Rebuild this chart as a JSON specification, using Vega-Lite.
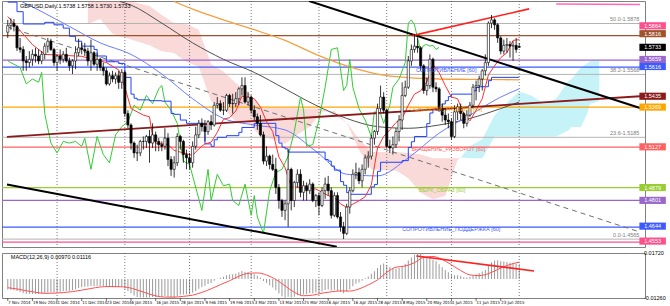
{
"$schema":"https://vega.github.io/schema/vega-lite/v6.json",
"padding":0,
"background":"#ffffff",
"spacing":2,
"config":{"view":{"stroke":"#808080","strokeWidth":1},"font":"Liberation Sans","axis":{"labelFontSize":6,"labelColor":"#000","domainColor":"#333","tickColor":"#333","tickSize":3,"grid":false,"labelFlush":false}},
"datasets":{
"candles":[
{"i":0,"o":1.5825,"h":1.59,"l":1.579,"c":1.5865},{"i":1,"o":1.5865,"h":1.591,"l":1.584,"c":1.588},{"i":2,"o":1.588,"h":1.5905,"l":1.583,"c":1.586},{"i":3,"o":1.586,"h":1.587,"l":1.571,"c":1.573},{"i":4,"o":1.573,"h":1.579,"l":1.57,"c":1.572},{"i":5,"o":1.572,"h":1.574,"l":1.559,"c":1.565},{"i":6,"o":1.565,"h":1.568,"l":1.559,"c":1.564},{"i":7,"o":1.564,"h":1.571,"l":1.561,"c":1.566},{"i":8,"o":1.566,"h":1.572,"l":1.562,"c":1.569},{"i":9,"o":1.569,"h":1.573,"l":1.564,"c":1.568},
{"i":10,"o":1.568,"h":1.572,"l":1.563,"c":1.565},{"i":11,"o":1.565,"h":1.571,"l":1.563,"c":1.569},{"i":12,"o":1.569,"h":1.576,"l":1.566,"c":1.574},{"i":13,"o":1.574,"h":1.579,"l":1.57,"c":1.577},{"i":14,"o":1.577,"h":1.5785,"l":1.571,"c":1.572},{"i":15,"o":1.572,"h":1.573,"l":1.562,"c":1.564},{"i":16,"o":1.564,"h":1.569,"l":1.559,"c":1.568},{"i":17,"o":1.568,"h":1.572,"l":1.563,"c":1.566},{"i":18,"o":1.566,"h":1.571,"l":1.564,"c":1.569},{"i":19,"o":1.569,"h":1.573,"l":1.564,"c":1.565},
{"i":20,"o":1.565,"h":1.567,"l":1.559,"c":1.562},{"i":21,"o":1.562,"h":1.566,"l":1.557,"c":1.565},{"i":22,"o":1.565,"h":1.574,"l":1.56,"c":1.57},{"i":23,"o":1.57,"h":1.5785,"l":1.568,"c":1.573},{"i":24,"o":1.573,"h":1.576,"l":1.569,"c":1.572},{"i":25,"o":1.572,"h":1.576,"l":1.568,"c":1.571},{"i":26,"o":1.571,"h":1.573,"l":1.562,"c":1.565},{"i":27,"o":1.565,"h":1.578,"l":1.559,"c":1.57},{"i":28,"o":1.57,"h":1.571,"l":1.562,"c":1.563},{"i":29,"o":1.563,"h":1.57,"l":1.559,"c":1.566},
{"i":30,"o":1.566,"h":1.567,"l":1.559,"c":1.561},{"i":31,"o":1.561,"h":1.564,"l":1.556,"c":1.559},{"i":32,"o":1.559,"h":1.561,"l":1.55,"c":1.551},{"i":33,"o":1.551,"h":1.558,"l":1.55,"c":1.556},{"i":34,"o":1.556,"h":1.559,"l":1.552,"c":1.554},{"i":35,"o":1.554,"h":1.558,"l":1.551,"c":1.556},{"i":36,"o":1.556,"h":1.559,"l":1.548,"c":1.552},{"i":37,"o":1.552,"h":1.56,"l":1.548,"c":1.558},{"i":38,"o":1.558,"h":1.559,"l":1.531,"c":1.533},{"i":39,"o":1.533,"h":1.535,"l":1.524,"c":1.526},
{"i":40,"o":1.526,"h":1.527,"l":1.511,"c":1.515},{"i":41,"o":1.515,"h":1.516,"l":1.506,"c":1.509},{"i":42,"o":1.509,"h":1.514,"l":1.504,"c":1.509},{"i":43,"o":1.509,"h":1.517,"l":1.507,"c":1.516},{"i":44,"o":1.516,"h":1.519,"l":1.511,"c":1.516},{"i":45,"o":1.516,"h":1.52,"l":1.512,"c":1.519},{"i":46,"o":1.519,"h":1.523,"l":1.503,"c":1.515},{"i":47,"o":1.515,"h":1.527,"l":1.512,"c":1.52},{"i":48,"o":1.52,"h":1.522,"l":1.51,"c":1.516},{"i":49,"o":1.516,"h":1.518,"l":1.51,"c":1.514},
{"i":50,"o":1.514,"h":1.516,"l":1.51,"c":1.513},{"i":51,"o":1.513,"h":1.524,"l":1.511,"c":1.518},{"i":52,"o":1.518,"h":1.521,"l":1.501,"c":1.505},{"i":53,"o":1.505,"h":1.507,"l":1.495,"c":1.499},{"i":54,"o":1.499,"h":1.507,"l":1.494,"c":1.503},{"i":55,"o":1.503,"h":1.521,"l":1.501,"c":1.519},{"i":56,"o":1.519,"h":1.52,"l":1.511,"c":1.516},{"i":57,"o":1.516,"h":1.517,"l":1.503,"c":1.508},{"i":58,"o":1.508,"h":1.511,"l":1.499,"c":1.506},{"i":59,"o":1.506,"h":1.509,"l":1.499,"c":1.503},
{"i":60,"o":1.503,"h":1.516,"l":1.5,"c":1.513},{"i":61,"o":1.513,"h":1.525,"l":1.511,"c":1.52},{"i":62,"o":1.52,"h":1.529,"l":1.518,"c":1.527},{"i":63,"o":1.527,"h":1.53,"l":1.522,"c":1.525},{"i":64,"o":1.525,"h":1.529,"l":1.516,"c":1.522},{"i":65,"o":1.522,"h":1.529,"l":1.52,"c":1.528},{"i":66,"o":1.528,"h":1.532,"l":1.523,"c":1.526},{"i":67,"o":1.526,"h":1.54,"l":1.525,"c":1.538},{"i":68,"o":1.538,"h":1.543,"l":1.536,"c":1.539},{"i":69,"o":1.539,"h":1.541,"l":1.534,"c":1.535},
{"i":70,"o":1.535,"h":1.54,"l":1.532,"c":1.535},{"i":71,"o":1.535,"h":1.545,"l":1.534,"c":1.544},{"i":72,"o":1.544,"h":1.545,"l":1.537,"c":1.539},{"i":73,"o":1.539,"h":1.545,"l":1.533,"c":1.539},{"i":74,"o":1.539,"h":1.546,"l":1.537,"c":1.542},{"i":75,"o":1.542,"h":1.549,"l":1.538,"c":1.548},{"i":76,"o":1.548,"h":1.555,"l":1.544,"c":1.55},{"i":77,"o":1.55,"h":1.555,"l":1.539,"c":1.54},{"i":78,"o":1.54,"h":1.546,"l":1.538,"c":1.543},{"i":79,"o":1.543,"h":1.544,"l":1.533,"c":1.535},
{"i":80,"o":1.535,"h":1.538,"l":1.529,"c":1.531},{"i":81,"o":1.531,"h":1.533,"l":1.523,"c":1.527},{"i":82,"o":1.527,"h":1.532,"l":1.519,"c":1.52},{"i":83,"o":1.52,"h":1.522,"l":1.502,"c":1.504},{"i":84,"o":1.504,"h":1.513,"l":1.501,"c":1.507},{"i":85,"o":1.507,"h":1.508,"l":1.499,"c":1.502},{"i":86,"o":1.502,"h":1.508,"l":1.498,"c":1.499},{"i":87,"o":1.499,"h":1.506,"l":1.484,"c":1.488},{"i":88,"o":1.488,"h":1.49,"l":1.475,"c":1.48},{"i":89,"o":1.48,"h":1.481,"l":1.47,"c":1.474},
{"i":90,"o":1.474,"h":1.48,"l":1.468,"c":1.478},{"i":91,"o":1.478,"h":1.511,"l":1.464,"c":1.499},{"i":92,"o":1.499,"h":1.5,"l":1.474,"c":1.48},{"i":93,"o":1.48,"h":1.492,"l":1.476,"c":1.491},{"i":94,"o":1.491,"h":1.499,"l":1.488,"c":1.496},{"i":95,"o":1.496,"h":1.499,"l":1.482,"c":1.485},{"i":96,"o":1.485,"h":1.492,"l":1.48,"c":1.489},{"i":97,"o":1.489,"h":1.491,"l":1.48,"c":1.486},{"i":98,"o":1.486,"h":1.493,"l":1.484,"c":1.49},{"i":99,"o":1.49,"h":1.491,"l":1.479,"c":1.48},
{"i":100,"o":1.48,"h":1.484,"l":1.476,"c":1.483},{"i":101,"o":1.483,"h":1.485,"l":1.471,"c":1.477},{"i":102,"o":1.477,"h":1.488,"l":1.476,"c":1.486},{"i":103,"o":1.486,"h":1.494,"l":1.481,"c":1.49},{"i":104,"o":1.49,"h":1.495,"l":1.483,"c":1.486},{"i":105,"o":1.486,"h":1.488,"l":1.469,"c":1.471},{"i":106,"o":1.471,"h":1.485,"l":1.47,"c":1.483},{"i":107,"o":1.483,"h":1.485,"l":1.469,"c":1.47},{"i":108,"o":1.47,"h":1.473,"l":1.461,"c":1.464},{"i":109,"o":1.464,"h":1.467,"l":1.4565,"c":1.46},
{"i":110,"o":1.46,"h":1.478,"l":1.459,"c":1.476},{"i":111,"o":1.476,"h":1.488,"l":1.472,"c":1.486},{"i":112,"o":1.486,"h":1.499,"l":1.485,"c":1.496},{"i":113,"o":1.496,"h":1.503,"l":1.493,"c":1.497},{"i":114,"o":1.497,"h":1.5,"l":1.49,"c":1.492},{"i":115,"o":1.492,"h":1.502,"l":1.488,"c":1.499},{"i":116,"o":1.499,"h":1.508,"l":1.496,"c":1.506},{"i":117,"o":1.506,"h":1.51,"l":1.5,"c":1.507},{"i":118,"o":1.507,"h":1.52,"l":1.505,"c":1.518},{"i":119,"o":1.518,"h":1.523,"l":1.514,"c":1.522},
{"i":120,"o":1.522,"h":1.539,"l":1.52,"c":1.536},{"i":121,"o":1.536,"h":1.55,"l":1.534,"c":1.543},{"i":122,"o":1.543,"h":1.546,"l":1.533,"c":1.535},{"i":123,"o":1.535,"h":1.536,"l":1.512,"c":1.513},{"i":124,"o":1.513,"h":1.517,"l":1.509,"c":1.512},{"i":125,"o":1.512,"h":1.519,"l":1.508,"c":1.514},{"i":126,"o":1.514,"h":1.524,"l":1.512,"c":1.522},{"i":127,"o":1.522,"h":1.532,"l":1.516,"c":1.529},{"i":128,"o":1.529,"h":1.552,"l":1.523,"c":1.544},{"i":129,"o":1.544,"h":1.553,"l":1.543,"c":1.549},
{"i":130,"o":1.549,"h":1.568,"l":1.548,"c":1.565},{"i":131,"o":1.565,"h":1.575,"l":1.562,"c":1.572},{"i":132,"o":1.572,"h":1.5815,"l":1.57,"c":1.574},{"i":133,"o":1.574,"h":1.579,"l":1.57,"c":1.573},{"i":134,"o":1.573,"h":1.574,"l":1.559,"c":1.562},{"i":135,"o":1.562,"h":1.563,"l":1.545,"c":1.547},{"i":136,"o":1.547,"h":1.555,"l":1.544,"c":1.55},{"i":137,"o":1.55,"h":1.569,"l":1.548,"c":1.566},{"i":138,"o":1.566,"h":1.567,"l":1.546,"c":1.549},{"i":139,"o":1.549,"h":1.552,"l":1.546,"c":1.548},
{"i":140,"o":1.548,"h":1.549,"l":1.534,"c":1.536},{"i":141,"o":1.536,"h":1.539,"l":1.528,"c":1.532},{"i":142,"o":1.532,"h":1.536,"l":1.526,"c":1.529},{"i":143,"o":1.529,"h":1.533,"l":1.524,"c":1.528},{"i":144,"o":1.528,"h":1.53,"l":1.517,"c":1.519},{"i":145,"o":1.519,"h":1.538,"l":1.518,"c":1.534},{"i":146,"o":1.534,"h":1.539,"l":1.529,"c":1.537},{"i":147,"o":1.537,"h":1.539,"l":1.529,"c":1.533},{"i":148,"o":1.533,"h":1.534,"l":1.524,"c":1.527},{"i":149,"o":1.527,"h":1.535,"l":1.525,"c":1.532},
{"i":150,"o":1.532,"h":1.54,"l":1.531,"c":1.538},{"i":151,"o":1.538,"h":1.551,"l":1.536,"c":1.549},{"i":152,"o":1.549,"h":1.553,"l":1.541,"c":1.55},{"i":153,"o":1.55,"h":1.556,"l":1.546,"c":1.554},{"i":154,"o":1.554,"h":1.56,"l":1.547,"c":1.559},{"i":155,"o":1.559,"h":1.569,"l":1.556,"c":1.564},{"i":156,"o":1.564,"h":1.589,"l":1.562,"c":1.588},{"i":157,"o":1.588,"h":1.593,"l":1.585,"c":1.59},{"i":158,"o":1.59,"h":1.591,"l":1.584,"c":1.587},{"i":159,"o":1.587,"h":1.588,"l":1.576,"c":1.579},
{"i":160,"o":1.579,"h":1.58,"l":1.569,"c":1.571},{"i":161,"o":1.571,"h":1.578,"l":1.569,"c":1.5745},{"i":162,"o":1.5745,"h":1.579,"l":1.57,"c":1.575},{"i":163,"o":1.575,"h":1.577,"l":1.567,"c":1.574},{"i":164,"o":1.574,"h":1.577,"l":1.565,"c":1.5745},{"i":165,"o":1.5745,"h":1.579,"l":1.57,"c":1.572},{"i":166,"o":1.5738,"h":1.5758,"l":1.573,"c":1.5733}
],
"cloud":[
{"s":"r","i":26,"a":1.5875,"b":1.6012},{"s":"r","i":30,"a":1.5905,"b":1.6012},{"s":"r","i":34,"a":1.5815,"b":1.6012},{"s":"r","i":40,"a":1.578,"b":1.6012},{"s":"r","i":46,"a":1.5745,"b":1.5985},{"s":"r","i":50,"a":1.5709,"b":1.593},{"s":"r","i":54,"a":1.5699,"b":1.588},{"s":"r","i":58,"a":1.5643,"b":1.5875},{"s":"r","i":62,"a":1.5615,"b":1.584},{"s":"r","i":66,"a":1.5404,"b":1.563},{"s":"r","i":70,"a":1.5364,"b":1.5585},{"s":"r","i":74,"a":1.5279,"b":1.5515},{"s":"r","i":78,"a":1.5273,"b":1.546},{"s":"r","i":82,"a":1.519,"b":1.5365},{"s":"r","i":86,"a":1.5173,"b":1.5365},{"s":"r","i":90,"a":1.5145,"b":1.5363},{"s":"r","i":94,"a":1.52,"b":1.5362},{"s":"r","i":98,"a":1.525,"b":1.536},{"s":"r","i":102,"a":1.534,"b":1.536},{"s":"r","i":106,"a":1.5345,"b":1.532},{"s":"r","i":110,"a":1.5275,"b":1.5275},{"s":"r","i":114,"a":1.5108,"b":1.5175},{"s":"r","i":118,"a":1.499,"b":1.5095},{"s":"r","i":122,"a":1.4985,"b":1.5095},{"s":"r","i":126,"a":1.4983,"b":1.5095},{"s":"r","i":130,"a":1.4935,"b":1.509},{"s":"r","i":134,"a":1.4848,"b":1.508},{"s":"r","i":138,"a":1.4808,"b":1.5058},{"s":"r","i":142,"a":1.4828,"b":1.5058},{"s":"r","i":146,"a":1.5049,"b":1.5058},{"s":"r","i":147,"a":1.5062,"b":1.5062},
{"s":"c","i":147,"a":1.5062,"b":1.5062},{"s":"c","i":150,"a":1.5132,"b":1.5058},{"s":"c","i":154,"a":1.5172,"b":1.5058},{"s":"c","i":158,"a":1.5319,"b":1.519},{"s":"c","i":162,"a":1.5396,"b":1.519},{"s":"c","i":166,"a":1.5463,"b":1.519},{"s":"c","i":170,"a":1.5439,"b":1.519},{"s":"c","i":174,"a":1.5389,"b":1.519},{"s":"c","i":178,"a":1.5419,"b":1.519},{"s":"c","i":182,"a":1.5529,"b":1.5228},{"s":"c","i":183,"a":1.554,"b":1.5248},{"s":"c","i":186,"a":1.561,"b":1.5248},{"s":"c","i":188,"a":1.5635,"b":1.5325},{"s":"c","i":189,"a":1.5648,"b":1.539},{"s":"c","i":192,"a":1.565,"b":1.5405}
],
"months":[{"i":16},{"i":38},{"i":59},{"i":79},{"i":101},{"i":123},{"i":144},{"i":166}],
"levels":[{"k":"brown","p":1.5804},{"k":"purple","p":1.5655},{"k":"blue","p":1.5612},{"k":"orange","p":1.5369},{"k":"red","p":1.5125},{"k":"olive","p":1.4879},{"k":"purple","p":1.4801},{"k":"blue","p":1.4638},{"k":"pink","p":1.4547}],
"fibs":[{"p":1.5878,"t":"50.0-1.5878"},{"p":1.5568,"t":"38.2-1.5568"},{"p":1.5185,"t":"23.6-1.5185"},{"p":1.4565,"t":"0.0-1.4565"}],
"trends":[
{"id":"blackUp","i":97.8,"p":1.6015},{"id":"blackUp","i":205.2,"p":1.5363},
{"id":"blackLow","i":-0.25,"p":1.4898},{"id":"blackLow","i":106.8,"p":1.4519},
{"id":"maroon","i":-0.25,"p":1.5188},{"id":"maroon","i":205.2,"p":1.5435},
{"id":"red","i":131.3,"p":1.5804},{"id":"red","i":169.2,"p":1.5967},
{"id":"dash","i":-0.25,"p":1.5858},{"id":"dash","i":205.2,"p":1.4608},
{"id":"pinkTop","i":178,"p":1.5997},{"id":"pinkTop","i":205.2,"p":1.5993}
],
"ind":[
{"s":"tenkan","i":0,"p":1.592},{"s":"tenkan","i":4,"p":1.5835},{"s":"tenkan","i":8,"p":1.575},{"s":"tenkan","i":12,"p":1.569},{"s":"tenkan","i":24,"p":1.5678},{"s":"tenkan","i":32,"p":1.564},{"s":"tenkan","i":36,"p":1.5595},{"s":"tenkan","i":38,"p":1.549},{"s":"tenkan","i":40,"p":1.536},{"s":"tenkan","i":44,"p":1.532},{"s":"tenkan","i":46,"p":1.531},{"s":"tenkan","i":47,"p":1.519},{"s":"tenkan","i":48,"p":1.515},{"s":"tenkan","i":52,"p":1.514},{"s":"tenkan","i":54,"p":1.5105},{"s":"tenkan","i":60,"p":1.5075},{"s":"tenkan","i":62,"p":1.5115},{"s":"tenkan","i":64,"p":1.5145},{"s":"tenkan","i":66,"p":1.5155},{"s":"tenkan","i":68,"p":1.5215},{"s":"tenkan","i":70,"p":1.5295},{"s":"tenkan","i":72,"p":1.5305},{"s":"tenkan","i":74,"p":1.5345},{"s":"tenkan","i":76,"p":1.5435},{"s":"tenkan","i":80,"p":1.542},{"s":"tenkan","i":82,"p":1.537},{"s":"tenkan","i":84,"p":1.528},{"s":"tenkan","i":86,"p":1.522},{"s":"tenkan","i":88,"p":1.5065},{"s":"tenkan","i":90,"p":1.5},{"s":"tenkan","i":92,"p":1.4885},{"s":"tenkan","i":100,"p":1.487},{"s":"tenkan","i":102,"p":1.485},{"s":"tenkan","i":104,"p":1.483},{"s":"tenkan","i":106,"p":1.482},{"s":"tenkan","i":108,"p":1.478},{"s":"tenkan","i":110,"p":1.4758},{"s":"tenkan","i":112,"p":1.4778},{"s":"tenkan","i":114,"p":1.4798},{"s":"tenkan","i":116,"p":1.4823},{"s":"tenkan","i":118,"p":1.4895},{"s":"tenkan","i":120,"p":1.512},{"s":"tenkan","i":122,"p":1.519},{"s":"tenkan","i":124,"p":1.523},{"s":"tenkan","i":126,"p":1.5275},{"s":"tenkan","i":128,"p":1.53},{"s":"tenkan","i":130,"p":1.538},{"s":"tenkan","i":132,"p":1.5448},{"s":"tenkan","i":134,"p":1.5468},{"s":"tenkan","i":136,"p":1.5523},{"s":"tenkan","i":138,"p":1.5628},{"s":"tenkan","i":140,"p":1.5578},{"s":"tenkan","i":142,"p":1.55},{"s":"tenkan","i":144,"p":1.543},{"s":"tenkan","i":146,"p":1.542},{"s":"tenkan","i":148,"p":1.533},{"s":"tenkan","i":150,"p":1.5285},{"s":"tenkan","i":152,"p":1.535},{"s":"tenkan","i":154,"p":1.542},{"s":"tenkan","i":156,"p":1.5565},{"s":"tenkan","i":158,"p":1.562},{"s":"tenkan","i":160,"p":1.567},{"s":"tenkan","i":162,"p":1.57},{"s":"tenkan","i":164,"p":1.5775},{"s":"tenkan","i":166,"p":1.578},
{"s":"kijun","i":0,"p":1.6008},{"s":"kijun","i":3,"p":1.595},{"s":"kijun","i":5,"p":1.5875},{"s":"kijun","i":12,"p":1.5885},{"s":"kijun","i":15,"p":1.587},{"s":"kijun","i":18,"p":1.585},{"s":"kijun","i":20,"p":1.58},{"s":"kijun","i":22,"p":1.577},{"s":"kijun","i":24,"p":1.574},{"s":"kijun","i":28,"p":1.572},{"s":"kijun","i":29,"p":1.568},{"s":"kijun","i":32,"p":1.5645},{"s":"kijun","i":36,"p":1.5635},{"s":"kijun","i":38,"p":1.555},{"s":"kijun","i":40,"p":1.5448},{"s":"kijun","i":41,"p":1.5423},{"s":"kijun","i":42,"p":1.5413},{"s":"kijun","i":46,"p":1.5408},{"s":"kijun","i":50,"p":1.5405},{"s":"kijun","i":53,"p":1.533},{"s":"kijun","i":54,"p":1.5325},{"s":"kijun","i":56,"p":1.529},{"s":"kijun","i":58,"p":1.527},{"s":"kijun","i":64,"p":1.5145},{"s":"kijun","i":66,"p":1.513},{"s":"kijun","i":67,"p":1.517},{"s":"kijun","i":68,"p":1.5185},{"s":"kijun","i":71,"p":1.5195},{"s":"kijun","i":75,"p":1.5215},{"s":"kijun","i":76,"p":1.5245},{"s":"kijun","i":80,"p":1.527},{"s":"kijun","i":87,"p":1.5195},{"s":"kijun","i":88,"p":1.515},{"s":"kijun","i":89,"p":1.5125},{"s":"kijun","i":90,"p":1.5115},{"s":"kijun","i":91,"p":1.5095},{"s":"kijun","i":103,"p":1.505},{"s":"kijun","i":104,"p":1.504},{"s":"kijun","i":105,"p":1.501},{"s":"kijun","i":106,"p":1.4985},{"s":"kijun","i":108,"p":1.4915},{"s":"kijun","i":109,"p":1.4893},{"s":"kijun","i":110,"p":1.4848},{"s":"kijun","i":111,"p":1.4838},{"s":"kijun","i":118,"p":1.4883},{"s":"kijun","i":119,"p":1.4898},{"s":"kijun","i":120,"p":1.4978},{"s":"kijun","i":121,"p":1.5033},{"s":"kijun","i":128,"p":1.5043},{"s":"kijun","i":130,"p":1.5123},{"s":"kijun","i":131,"p":1.5158},{"s":"kijun","i":132,"p":1.519},{"s":"kijun","i":136,"p":1.5268},{"s":"kijun","i":137,"p":1.5333},{"s":"kijun","i":138,"p":1.5358},{"s":"kijun","i":139,"p":1.5348},{"s":"kijun","i":141,"p":1.5388},{"s":"kijun","i":142,"p":1.5408},{"s":"kijun","i":143,"p":1.5433},{"s":"kijun","i":144,"p":1.5448},{"s":"kijun","i":151,"p":1.5468},{"s":"kijun","i":152,"p":1.5488},{"s":"kijun","i":153,"p":1.5493},{"s":"kijun","i":156,"p":1.553},{"s":"kijun","i":157,"p":1.555},{"s":"kijun","i":166,"p":1.555},
{"s":"chikou","i":0,"p":1.565},{"s":"chikou","i":2,"p":1.563},{"s":"chikou","i":4,"p":1.561},{"s":"chikou","i":6,"p":1.551},{"s":"chikou","i":8,"p":1.554},{"s":"chikou","i":10,"p":1.552},{"s":"chikou","i":11,"p":1.558},{"s":"chikou","i":12,"p":1.533},{"s":"chikou","i":14,"p":1.515},{"s":"chikou","i":16,"p":1.509},{"s":"chikou","i":18,"p":1.516},{"s":"chikou","i":20,"p":1.515},{"s":"chikou","i":22,"p":1.516},{"s":"chikou","i":24,"p":1.513},{"s":"chikou","i":25,"p":1.518},{"s":"chikou","i":27,"p":1.499},{"s":"chikou","i":29,"p":1.519},{"s":"chikou","i":31,"p":1.508},{"s":"chikou","i":33,"p":1.503},{"s":"chikou","i":35,"p":1.52},{"s":"chikou","i":37,"p":1.525},{"s":"chikou","i":39,"p":1.528},{"s":"chikou","i":41,"p":1.538},{"s":"chikou","i":43,"p":1.535},{"s":"chikou","i":45,"p":1.544},{"s":"chikou","i":47,"p":1.539},{"s":"chikou","i":49,"p":1.548},{"s":"chikou","i":50,"p":1.55},{"s":"chikou","i":51,"p":1.54},{"s":"chikou","i":53,"p":1.535},{"s":"chikou","i":55,"p":1.527},{"s":"chikou","i":57,"p":1.504},{"s":"chikou","i":59,"p":1.502},{"s":"chikou","i":61,"p":1.488},{"s":"chikou","i":63,"p":1.474},{"s":"chikou","i":65,"p":1.499},{"s":"chikou","i":66,"p":1.48},{"s":"chikou","i":68,"p":1.496},{"s":"chikou","i":70,"p":1.489},{"s":"chikou","i":72,"p":1.49},{"s":"chikou","i":73,"p":1.48},{"s":"chikou","i":75,"p":1.477},{"s":"chikou","i":77,"p":1.49},{"s":"chikou","i":79,"p":1.471},{"s":"chikou","i":80,"p":1.483},{"s":"chikou","i":81,"p":1.47},{"s":"chikou","i":83,"p":1.46},{"s":"chikou","i":85,"p":1.486},{"s":"chikou","i":87,"p":1.497},{"s":"chikou","i":89,"p":1.499},{"s":"chikou","i":91,"p":1.507},{"s":"chikou","i":93,"p":1.522},{"s":"chikou","i":95,"p":1.543},{"s":"chikou","i":96,"p":1.535},{"s":"chikou","i":97,"p":1.513},{"s":"chikou","i":99,"p":1.514},{"s":"chikou","i":101,"p":1.529},{"s":"chikou","i":103,"p":1.549},{"s":"chikou","i":105,"p":1.572},{"s":"chikou","i":107,"p":1.573},{"s":"chikou","i":109,"p":1.547},{"s":"chikou","i":110,"p":1.55},{"s":"chikou","i":111,"p":1.566},{"s":"chikou","i":112,"p":1.549},{"s":"chikou","i":114,"p":1.536},{"s":"chikou","i":116,"p":1.529},{"s":"chikou","i":118,"p":1.519},{"s":"chikou","i":119,"p":1.534},{"s":"chikou","i":121,"p":1.533},{"s":"chikou","i":122,"p":1.527},{"s":"chikou","i":124,"p":1.538},{"s":"chikou","i":125,"p":1.549},{"s":"chikou","i":127,"p":1.554},{"s":"chikou","i":129,"p":1.564},{"s":"chikou","i":130,"p":1.588},{"s":"chikou","i":131,"p":1.59},{"s":"chikou","i":132,"p":1.587},{"s":"chikou","i":133,"p":1.579},{"s":"chikou","i":134,"p":1.571},{"s":"chikou","i":135,"p":1.5745},{"s":"chikou","i":136,"p":1.575},{"s":"chikou","i":137,"p":1.574},{"s":"chikou","i":138,"p":1.5745},{"s":"chikou","i":139,"p":1.572},{"s":"chikou","i":140,"p":1.5733},
{"s":"sma200","i":54,"p":1.6012},{"s":"sma200","i":60,"p":1.5965},{"s":"sma200","i":70,"p":1.59},{"s":"sma200","i":80,"p":1.584},{"s":"sma200","i":90,"p":1.5775},{"s":"sma200","i":100,"p":1.569},{"s":"sma200","i":110,"p":1.562},{"s":"sma200","i":120,"p":1.557},{"s":"sma200","i":130,"p":1.5548},{"s":"sma200","i":140,"p":1.554},{"s":"sma200","i":150,"p":1.5538},{"s":"sma200","i":166,"p":1.5535},
{"s":"sma100","i":36.4,"p":1.6012},{"s":"sma100","i":40,"p":1.599},{"s":"sma100","i":50,"p":1.588},{"s":"sma100","i":60,"p":1.576},{"s":"sma100","i":70,"p":1.566},{"s":"sma100","i":80,"p":1.558},{"s":"sma100","i":90,"p":1.548},{"s":"sma100","i":100,"p":1.538},{"s":"sma100","i":110,"p":1.53},{"s":"sma100","i":120,"p":1.525},{"s":"sma100","i":130,"p":1.524},{"s":"sma100","i":140,"p":1.526},{"s":"sma100","i":150,"p":1.53},{"s":"sma100","i":160,"p":1.536},{"s":"sma100","i":166,"p":1.54},
{"s":"sma50","i":4.5,"p":1.6012},{"s":"sma50","i":10,"p":1.596},{"s":"sma50","i":20,"p":1.586},{"s":"sma50","i":30,"p":1.576},{"s":"sma50","i":40,"p":1.569},{"s":"sma50","i":50,"p":1.557},{"s":"sma50","i":60,"p":1.542},{"s":"sma50","i":70,"p":1.53},{"s":"sma50","i":80,"p":1.526},{"s":"sma50","i":90,"p":1.523},{"s":"sma50","i":100,"p":1.51},{"s":"sma50","i":110,"p":1.496},{"s":"sma50","i":120,"p":1.495},{"s":"sma50","i":130,"p":1.506},{"s":"sma50","i":140,"p":1.521},{"s":"sma50","i":150,"p":1.532},{"s":"sma50","i":160,"p":1.543},{"s":"sma50","i":166,"p":1.548}
],
"notes":[
{"k":"blue","i":132.5,"p":1.5597,"t":"СОПРОТИВЛЕНИЕ [60]"},
{"k":"orange","i":130.5,"p":1.5356,"t":"ОСНОВНОЙ_УРОВЕНЬ [60]"},
{"k":"red","i":131,"p":1.5112,"t":"ВРАЩЕНИЕ_РАЗВОРОТ [60]"},
{"k":"olive","i":133.5,"p":1.4866,"t":"ВЕРХ_ОБРАЗ [60]"},
{"k":"blue","i":128,"p":1.4625,"t":"СОПРОТИВЛЕНИЕ_ПОДДЕРЖКА [60]"}
],
"boxes":[
{"k":"pink","p":1.5864},{"k":"brown","p":1.5816},{"k":"black","p":1.5733},{"k":"purple","p":1.5659},{"k":"blue","p":1.5616},{"k":"maroon","p":1.5435},{"k":"orange","p":1.5369},{"k":"red","p":1.5127},{"k":"olive","p":1.4879},{"k":"purple","p":1.4801},{"k":"blue","p":1.4644},{"k":"pink","p":1.4553}
],
"xlabels":[{"i":0,"t":"7 Nov 2014"},{"i":8,"t":"19 Nov 2014"},{"i":16,"t":"1 Dec 2014"},{"i":24,"t":"11 Dec 2014"},{"i":32,"t":"23 Dec 2014"},{"i":40,"t":"6 Jan 2015"},{"i":48,"t":"16 Jan 2015"},{"i":56,"t":"28 Jan 2015"},{"i":64,"t":"9 Feb 2015"},{"i":72,"t":"19 Feb 2015"},{"i":80,"t":"3 Mar 2015"},{"i":88,"t":"13 Mar 2015"},{"i":96,"t":"25 Mar 2015"},{"i":104,"t":"6 Apr 2015"},{"i":112,"t":"16 Apr 2015"},{"i":120,"t":"28 Apr 2015"},{"i":128,"t":"8 May 2015"},{"i":136,"t":"20 May 2015"},{"i":144,"t":"1 Jun 2015"},{"i":152,"t":"11 Jun 2015"},{"i":160,"t":"23 Jun 2015"}],
"mlabels":[{"v":0.0172,"t":"0.01720"},{"v":-0.0126,"t":"-0.01260"}],
"macd":[
{"i":0,"v":-0.007},{"i":1,"v":-0.0072},{"i":2,"v":-0.0074},{"i":3,"v":-0.008},{"i":4,"v":-0.0086},{"i":5,"v":-0.0095},{"i":6,"v":-0.0099},{"i":7,"v":-0.01},{"i":8,"v":-0.01},{"i":9,"v":-0.01},{"i":10,"v":-0.01},{"i":11,"v":-0.0098},{"i":12,"v":-0.0094},{"i":13,"v":-0.0089},{"i":14,"v":-0.0088},{"i":15,"v":-0.009},{"i":16,"v":-0.0087},{"i":17,"v":-0.0085},{"i":18,"v":-0.0081},{"i":19,"v":-0.0079},{"i":20,"v":-0.0078},{"i":21,"v":-0.0075},{"i":22,"v":-0.0068},{"i":23,"v":-0.006},{"i":24,"v":-0.0055},{"i":25,"v":-0.0051},{"i":26,"v":-0.005},{"i":27,"v":-0.0047},{"i":28,"v":-0.0047},{"i":29,"v":-0.0045},{"i":30,"v":-0.0046},{"i":31,"v":-0.0047},{"i":32,"v":-0.0053},{"i":33,"v":-0.0054},{"i":34,"v":-0.0055},{"i":35,"v":-0.0054},{"i":36,"v":-0.0054},{"i":37,"v":-0.005},{"i":38,"v":-0.0064},{"i":39,"v":-0.0079},{"i":40,"v":-0.0095},{"i":41,"v":-0.011},{"i":42,"v":-0.012},{"i":43,"v":-0.0122},{"i":44,"v":-0.0123},{"i":45,"v":-0.0122},{"i":46,"v":-0.0123},{"i":47,"v":-0.012},{"i":48,"v":-0.0119},{"i":49,"v":-0.0118},{"i":50,"v":-0.0118},{"i":51,"v":-0.0113},{"i":52,"v":-0.0117},{"i":53,"v":-0.0124},{"i":54,"v":-0.0125},{"i":55,"v":-0.0112},{"i":56,"v":-0.0104},{"i":57,"v":-0.0102},{"i":58,"v":-0.0101},{"i":59,"v":-0.0101},{"i":60,"v":-0.0092},{"i":61,"v":-0.0079},{"i":62,"v":-0.0064},{"i":63,"v":-0.0053},{"i":64,"v":-0.0045},{"i":65,"v":-0.0034},{"i":66,"v":-0.0027},{"i":67,"v":-0.0012},{"i":68,"v":0.0001},{"i":69,"v":0.0008},{"i":70,"v":0.0014},{"i":71,"v":0.0025},{"i":72,"v":0.0029},{"i":73,"v":0.0032},{"i":74,"v":0.0037},{"i":75,"v":0.0045},{"i":76,"v":0.0052},{"i":77,"v":0.0048},{"i":78,"v":0.0047},{"i":79,"v":0.004},{"i":80,"v":0.0031},{"i":81,"v":0.0021},{"i":82,"v":0.0008},{"i":83,"v":-0.0013},{"i":84,"v":-0.0027},{"i":85,"v":-0.0042},{"i":86,"v":-0.0056},{"i":87,"v":-0.0075},{"i":88,"v":-0.0096},{"i":89,"v":-0.0115},{"i":90,"v":-0.0125},{"i":91,"v":-0.0117},{"i":92,"v":-0.0122},{"i":93,"v":-0.0117},{"i":94,"v":-0.0108},{"i":95,"v":-0.0108},{"i":96,"v":-0.0103},{"i":97,"v":-0.01},{"i":98,"v":-0.0093},{"i":99,"v":-0.0094},{"i":100,"v":-0.009},{"i":101,"v":-0.0091},{"i":102,"v":-0.0083},{"i":103,"v":-0.0073},{"i":104,"v":-0.0069},{"i":105,"v":-0.0076},{"i":106,"v":-0.0072},{"i":107,"v":-0.0078},{"i":108,"v":-0.0086},{"i":109,"v":-0.0094},{"i":110,"v":-0.0085},{"i":111,"v":-0.0069},{"i":112,"v":-0.0049},{"i":113,"v":-0.0032},{"i":114,"v":-0.0023},{"i":115,"v":-0.0011},{"i":116,"v":0.0005},{"i":117,"v":0.0017},{"i":118,"v":0.0035},{"i":119,"v":0.0051},{"i":120,"v":0.0073},{"i":121,"v":0.0094},{"i":122,"v":0.0102},{"i":123,"v":0.009},{"i":124,"v":0.0079},{"i":125,"v":0.0071},{"i":126,"v":0.0069},{"i":127,"v":0.0072},{"i":128,"v":0.0086},{"i":129,"v":0.01},{"i":130,"v":0.0122},{"i":131,"v":0.0143},{"i":132,"v":0.016},{"i":133,"v":0.017},{"i":134,"v":0.0168},{"i":135,"v":0.0151},{"i":136,"v":0.0139},{"i":137,"v":0.0141},{"i":138,"v":0.0128},{"i":139,"v":0.0117},{"i":140,"v":0.0097},{"i":141,"v":0.0078},{"i":142,"v":0.006},{"i":143,"v":0.0045},{"i":144,"v":0.0026},{"i":145,"v":0.0024},{"i":146,"v":0.0024},{"i":147,"v":0.002},{"i":148,"v":0.0012},{"i":149,"v":0.001},{"i":150,"v":0.0013},{"i":151,"v":0.0023},{"i":152,"v":0.003},{"i":153,"v":0.0039},{"i":154,"v":0.0049},{"i":155,"v":0.006},{"i":156,"v":0.0088},{"i":157,"v":0.011},{"i":158,"v":0.0123},{"i":159,"v":0.0124},{"i":160,"v":0.0118},{"i":161,"v":0.0115},{"i":162,"v":0.0112},{"i":163,"v":0.0108},{"i":164,"v":0.0106},{"i":165,"v":0.0101},{"i":166,"v":0.0097}
],
"signal":[
{"i":0,"v":-0.0058},{"i":3,"v":-0.0066},{"i":6,"v":-0.0078},{"i":9,"v":-0.0088},{"i":12,"v":-0.0095},{"i":15,"v":-0.0094},{"i":18,"v":-0.009},{"i":21,"v":-0.0084},{"i":24,"v":-0.0074},{"i":27,"v":-0.0063},{"i":30,"v":-0.0053},{"i":33,"v":-0.005},{"i":36,"v":-0.0051},{"i":39,"v":-0.0056},{"i":42,"v":-0.0073},{"i":45,"v":-0.0093},{"i":48,"v":-0.0112},{"i":51,"v":-0.012},{"i":54,"v":-0.012},{"i":57,"v":-0.0115},{"i":60,"v":-0.0107},{"i":63,"v":-0.0089},{"i":66,"v":-0.0065},{"i":69,"v":-0.0038},{"i":72,"v":-0.0012},{"i":75,"v":0.0018},{"i":78,"v":0.0037},{"i":81,"v":0.004},{"i":84,"v":0.0026},{"i":87,"v":-0.0003},{"i":90,"v":-0.0046},{"i":93,"v":-0.0088},{"i":96,"v":-0.0111},{"i":99,"v":-0.0107},{"i":102,"v":-0.0094},{"i":105,"v":-0.0085},{"i":108,"v":-0.0079},{"i":111,"v":-0.008},{"i":114,"v":-0.0066},{"i":117,"v":-0.0039},{"i":120,"v":-0.0006},{"i":123,"v":0.0044},{"i":126,"v":0.0078},{"i":129,"v":0.0086},{"i":132,"v":0.0108},{"i":135,"v":0.0143},{"i":138,"v":0.0149},{"i":141,"v":0.0129},{"i":144,"v":0.0094},{"i":147,"v":0.0056},{"i":150,"v":0.0027},{"i":153,"v":0.0022},{"i":156,"v":0.0035},{"i":159,"v":0.0063},{"i":162,"v":0.0089},{"i":166,"v":0.0112}
],
"macdtrend":[{"i":132.6,"v":0.0152},{"i":170.8,"v":0.0053}]
},
"vconcat":[
{
"width":643,"height":246,
"layer":[
{"data":{"name":"candles"},"mark":{"type":"bar","size":2.2,"stroke":"#000000","strokeWidth":0.6,"clip":true},
 "encoding":{"x":{"field":"i","type":"quantitative","scale":{"domain":[-0.25,205.2],"nice":false,"zero":false},"axis":null},
  "y":{"field":"o","type":"quantitative","scale":{"domain":[1.4517,1.6015],"nice":false,"zero":false},"title":null,
   "axis":{"orient":"right","values":[1.5975,1.5895,1.5815,1.5735,1.5655,1.5575,1.5495,1.5415,1.5335,1.5255,1.5175,1.5095,1.5015,1.4935,1.4855,1.4775,1.4695,1.4615,1.4535],"format":".4f","labelFontSize":6,"tickSize":3,"labelPadding":1,"domainColor":"#000","title":null}},
  "y2":{"field":"c"},
  "opacity":{"value":0}}},
{"data":{"name":"cloud"},"transform":[{"filter":"datum.s=='r'"}],"mark":{"type":"area","color":"#f08080","opacity":0.3,"clip":true},
 "encoding":{"x":{"field":"i","type":"quantitative","scale":{"domain":[-0.25,205.2],"nice":false,"zero":false},"axis":null},"y":{"field":"a","type":"quantitative","scale":{"domain":[1.4517,1.6015],"nice":false,"zero":false},"axis":null,"title":null},"y2":{"field":"b"}}},
{"data":{"name":"cloud"},"transform":[{"filter":"datum.s=='c'"}],"mark":{"type":"area","color":"#40d8e8","opacity":0.3,"clip":true},
 "encoding":{"x":{"field":"i","type":"quantitative","scale":{"domain":[-0.25,205.2],"nice":false,"zero":false},"axis":null},"y":{"field":"a","type":"quantitative","scale":{"domain":[1.4517,1.6015],"nice":false,"zero":false},"axis":null,"title":null},"y2":{"field":"b"}}},
{"data":{"name":"months"},"mark":{"type":"rule","color":"#555","strokeDash":[1,2],"strokeWidth":0.8},
 "encoding":{"x":{"field":"i","type":"quantitative","scale":{"domain":[-0.25,205.2],"nice":false,"zero":false},"axis":null}}},
{"data":{"name":"fibs"},"mark":{"type":"rule","color":"#b4b4b4","strokeWidth":1},
 "encoding":{"y":{"field":"p","type":"quantitative","scale":{"domain":[1.4517,1.6015],"nice":false,"zero":false},"axis":null,"title":null}}},
{"data":{"name":"fibs"},"mark":{"type":"text","align":"right","baseline":"bottom","dy":-1,"fontSize":5.5,"color":"#808080"},
 "encoding":{"x":{"datum":205,"type":"quantitative","scale":{"domain":[-0.25,205.2],"nice":false,"zero":false},"axis":null},"y":{"field":"p","type":"quantitative","scale":{"domain":[1.4517,1.6015],"nice":false,"zero":false},"axis":null,"title":null},"text":{"field":"t"}}},
{"data":{"name":"levels"},"mark":{"type":"rule","strokeWidth":1.3},
 "encoding":{"y":{"field":"p","type":"quantitative","scale":{"domain":[1.4517,1.6015],"nice":false,"zero":false},"axis":null,"title":null},
  "color":{"field":"k","type":"nominal","scale":{"domain":["brown","purple","blue","orange","red","olive","pink","maroon","black"],"range":["#a0522d","#9966cc","#3d5afe","#ffa500","#ff6060","#9acd32","#ff4f8b","#8b1a1a","#000000"]},"legend":null}}},
{"data":{"name":"trends"},"transform":[{"filter":"datum.id=='dash'"}],"mark":{"type":"line","color":"#707070","strokeWidth":1,"strokeDash":[5,4],"clip":true},
 "encoding":{"x":{"field":"i","type":"quantitative","scale":{"domain":[-0.25,205.2],"nice":false,"zero":false},"axis":null},"y":{"field":"p","type":"quantitative","scale":{"domain":[1.4517,1.6015],"nice":false,"zero":false},"axis":null,"title":null}}},
{"data":{"name":"ind"},"transform":[{"filter":"datum.s=='sma200'"}],"mark":{"type":"line","color":"#f5a040","strokeWidth":1.3,"interpolate":"monotone","clip":true},
 "encoding":{"x":{"field":"i","type":"quantitative","scale":{"domain":[-0.25,205.2],"nice":false,"zero":false},"axis":null},"y":{"field":"p","type":"quantitative","scale":{"domain":[1.4517,1.6015],"nice":false,"zero":false},"axis":null,"title":null}}},
{"data":{"name":"ind"},"transform":[{"filter":"datum.s=='sma100'"}],"mark":{"type":"line","color":"#505050","strokeWidth":1,"interpolate":"monotone","clip":true},
 "encoding":{"x":{"field":"i","type":"quantitative","scale":{"domain":[-0.25,205.2],"nice":false,"zero":false},"axis":null},"y":{"field":"p","type":"quantitative","scale":{"domain":[1.4517,1.6015],"nice":false,"zero":false},"axis":null,"title":null}}},
{"data":{"name":"ind"},"transform":[{"filter":"datum.s=='sma50'"}],"mark":{"type":"line","color":"#6a7cff","strokeWidth":1,"interpolate":"monotone","clip":true},
 "encoding":{"x":{"field":"i","type":"quantitative","scale":{"domain":[-0.25,205.2],"nice":false,"zero":false},"axis":null},"y":{"field":"p","type":"quantitative","scale":{"domain":[1.4517,1.6015],"nice":false,"zero":false},"axis":null,"title":null}}},
{"data":{"name":"ind"},"transform":[{"filter":"datum.s=='chikou'"}],"mark":{"type":"line","color":"#33cc33","strokeWidth":1,"clip":true},
 "encoding":{"x":{"field":"i","type":"quantitative","scale":{"domain":[-0.25,205.2],"nice":false,"zero":false},"axis":null},"y":{"field":"p","type":"quantitative","scale":{"domain":[1.4517,1.6015],"nice":false,"zero":false},"axis":null,"title":null}}},
{"data":{"name":"ind"},"transform":[{"filter":"datum.s=='kijun'"}],"mark":{"type":"line","color":"#2040ff","strokeWidth":1,"interpolate":"step-after","clip":true},
 "encoding":{"x":{"field":"i","type":"quantitative","scale":{"domain":[-0.25,205.2],"nice":false,"zero":false},"axis":null},"y":{"field":"p","type":"quantitative","scale":{"domain":[1.4517,1.6015],"nice":false,"zero":false},"axis":null,"title":null}}},
{"data":{"name":"ind"},"transform":[{"filter":"datum.s=='tenkan'"}],"mark":{"type":"line","color":"#ff3030","strokeWidth":1,"clip":true},
 "encoding":{"x":{"field":"i","type":"quantitative","scale":{"domain":[-0.25,205.2],"nice":false,"zero":false},"axis":null},"y":{"field":"p","type":"quantitative","scale":{"domain":[1.4517,1.6015],"nice":false,"zero":false},"axis":null,"title":null}}},
{"data":{"name":"trends"},"transform":[{"filter":"datum.id=='maroon'"}],"mark":{"type":"line","color":"#8b1a1a","strokeWidth":1.8,"clip":true},
 "encoding":{"x":{"field":"i","type":"quantitative","scale":{"domain":[-0.25,205.2],"nice":false,"zero":false},"axis":null},"y":{"field":"p","type":"quantitative","scale":{"domain":[1.4517,1.6015],"nice":false,"zero":false},"axis":null,"title":null}}},
{"data":{"name":"trends"},"transform":[{"filter":"datum.id=='blackUp' || datum.id=='blackLow'"}],"mark":{"type":"line","color":"#000000","strokeWidth":2,"clip":true},
 "encoding":{"x":{"field":"i","type":"quantitative","scale":{"domain":[-0.25,205.2],"nice":false,"zero":false},"axis":null},"y":{"field":"p","type":"quantitative","scale":{"domain":[1.4517,1.6015],"nice":false,"zero":false},"axis":null,"title":null},"detail":{"field":"id"}}},
{"data":{"name":"trends"},"transform":[{"filter":"datum.id=='red'"}],"mark":{"type":"line","color":"#ff2020","strokeWidth":1.6,"clip":true},
 "encoding":{"x":{"field":"i","type":"quantitative","scale":{"domain":[-0.25,205.2],"nice":false,"zero":false},"axis":null},"y":{"field":"p","type":"quantitative","scale":{"domain":[1.4517,1.6015],"nice":false,"zero":false},"axis":null,"title":null}}},
{"data":{"name":"trends"},"transform":[{"filter":"datum.id=='pinkTop'"}],"mark":{"type":"line","color":"#ff69b4","strokeWidth":1.5,"clip":true},
 "encoding":{"x":{"field":"i","type":"quantitative","scale":{"domain":[-0.25,205.2],"nice":false,"zero":false},"axis":null},"y":{"field":"p","type":"quantitative","scale":{"domain":[1.4517,1.6015],"nice":false,"zero":false},"axis":null,"title":null}}},
{"data":{"name":"candles"},"mark":{"type":"rule","color":"#000000","strokeWidth":0.8,"clip":true},
 "encoding":{"x":{"field":"i","type":"quantitative","scale":{"domain":[-0.25,205.2],"nice":false,"zero":false},"axis":null},"y":{"field":"l","type":"quantitative","scale":{"domain":[1.4517,1.6015],"nice":false,"zero":false},"axis":null,"title":null},"y2":{"field":"h"}}},
{"data":{"name":"candles"},"mark":{"type":"bar","size":2.2,"stroke":"#000000","strokeWidth":0.6,"clip":true},
 "encoding":{"x":{"field":"i","type":"quantitative","scale":{"domain":[-0.25,205.2],"nice":false,"zero":false},"axis":null},
  "y":{"field":"o","type":"quantitative","scale":{"domain":[1.4517,1.6015],"nice":false,"zero":false},"axis":null,"title":null},
  "y2":{"field":"c"},
  "fill":{"condition":{"test":"datum.c>=datum.o","value":"#ffffff"},"value":"#000000"}}},
{"data":{"name":"notes"},"mark":{"type":"text","align":"left","baseline":"middle","fontSize":5.5},
 "encoding":{"x":{"field":"i","type":"quantitative","scale":{"domain":[-0.25,205.2],"nice":false,"zero":false},"axis":null},"y":{"field":"p","type":"quantitative","scale":{"domain":[1.4517,1.6015],"nice":false,"zero":false},"axis":null,"title":null},"text":{"field":"t"},
  "color":{"field":"k","type":"nominal","scale":{"domain":["brown","purple","blue","orange","red","olive","pink","maroon","black"],"range":["#a0522d","#9966cc","#3d5afe","#ffa500","#ff6060","#9acd32","#ff4f8b","#8b1a1a","#000000"]},"legend":null}}},
{"data":{"name":"boxes"},"mark":{"type":"point","filled":true,"opacity":1,"shape":"M-1,-0.27H1V0.27H-1Z","size":700},
 "encoding":{"x":{"datum":209.3,"type":"quantitative","scale":{"domain":[-0.25,205.2],"nice":false,"zero":false},"axis":null},"y":{"field":"p","type":"quantitative","scale":{"domain":[1.4517,1.6015],"nice":false,"zero":false},"axis":null,"title":null},
  "color":{"field":"k","type":"nominal","scale":{"domain":["brown","purple","blue","orange","red","olive","pink","maroon","black"],"range":["#a0522d","#9966cc","#3d5afe","#ffa500","#ff6060","#9acd32","#ff4f8b","#8b1a1a","#000000"]},"legend":null}}},
{"data":{"name":"boxes"},"mark":{"type":"text","align":"center","baseline":"middle","fontSize":5.5,"color":"#ffffff"},
 "encoding":{"x":{"datum":209.3,"type":"quantitative","scale":{"domain":[-0.25,205.2],"nice":false,"zero":false},"axis":null},"y":{"field":"p","type":"quantitative","scale":{"domain":[1.4517,1.6015],"nice":false,"zero":false},"axis":null,"title":null},"text":{"field":"p","format":".4f"}}},
{"data":{"values":[{"t":"GBPUSD,Daily  1.5738 1.5758 1.5730 1.5733"}]},"mark":{"type":"text","align":"left","baseline":"middle","fontSize":5.5,"color":"#000"},
 "encoding":{"x":{"datum":4,"type":"quantitative","scale":{"domain":[-0.25,205.2],"nice":false,"zero":false},"axis":null},"y":{"datum":1.5985,"type":"quantitative","scale":{"domain":[1.4517,1.6015],"nice":false,"zero":false},"axis":null},"text":{"field":"t"}}}
]
},
{
"width":643,"height":45,
"layer":[
{"data":{"name":"macd"},"mark":{"type":"bar","size":1,"color":"#9a9a9a"},
 "encoding":{"x":{"field":"i","type":"quantitative","scale":{"domain":[-0.25,205.2],"nice":false,"zero":false},"axis":null},
  "y":{"field":"v","type":"quantitative","scale":{"domain":[-0.0126,0.0172],"nice":false,"zero":false},"axis":null}}},
{"data":{"name":"months"},"mark":{"type":"rule","color":"#555","strokeDash":[1,2],"strokeWidth":0.8},
 "encoding":{"x":{"field":"i","type":"quantitative","scale":{"domain":[-0.25,205.2],"nice":false,"zero":false},"axis":null}}},
{"mark":{"type":"rule","color":"#9966cc","strokeWidth":1.5},
 "encoding":{"y":{"datum":0,"type":"quantitative","scale":{"domain":[-0.0126,0.0172],"nice":false,"zero":false},"axis":null}}},
{"data":{"name":"signal"},"mark":{"type":"line","color":"#ff5050","strokeWidth":1,"interpolate":"monotone"},
 "encoding":{"x":{"field":"i","type":"quantitative","scale":{"domain":[-0.25,205.2],"nice":false,"zero":false},"axis":null},"y":{"field":"v","type":"quantitative","scale":{"domain":[-0.0126,0.0172],"nice":false,"zero":false},"axis":null}}},
{"data":{"name":"macdtrend"},"mark":{"type":"line","color":"#ff2020","strokeWidth":1.6},
 "encoding":{"x":{"field":"i","type":"quantitative","scale":{"domain":[-0.25,205.2],"nice":false,"zero":false},"axis":null},"y":{"field":"v","type":"quantitative","scale":{"domain":[-0.0126,0.0172],"nice":false,"zero":false},"axis":null}}},
{"data":{"values":[{"t":"MACD(12,26,9) 0.00970 0.01116"}]},"mark":{"type":"text","align":"left","baseline":"middle","fontSize":5.5,"color":"#000"},
 "encoding":{"x":{"datum":1,"type":"quantitative","scale":{"domain":[-0.25,205.2],"nice":false,"zero":false},"axis":null},"y":{"datum":0.0145,"type":"quantitative","scale":{"domain":[-0.0126,0.0172],"nice":false,"zero":false},"axis":null},"text":{"field":"t"}}},
{"data":{"name":"xlabels"},"mark":{"type":"text","align":"left","baseline":"middle","fontSize":4.3,"font":"'Liberation Sans Narrow', 'DejaVu Sans Condensed', sans-serif","color":"#000","dx":0.5,"dy":5},
 "encoding":{"x":{"field":"i","type":"quantitative","scale":{"domain":[-0.25,205.2],"nice":false,"zero":false},"axis":null},"y":{"datum":-0.0126,"type":"quantitative","scale":{"domain":[-0.0126,0.0172],"nice":false,"zero":false},"axis":null},"text":{"field":"t"}}},
{"data":{"name":"xlabels"},"mark":{"type":"tick","orient":"vertical","color":"#333","size":3,"thickness":1,"yOffset":1.5},
 "encoding":{"x":{"field":"i","type":"quantitative","scale":{"domain":[-0.25,205.2],"nice":false,"zero":false},"axis":null},"y":{"datum":-0.0126,"type":"quantitative","scale":{"domain":[-0.0126,0.0172],"nice":false,"zero":false},"axis":null}}},
{"data":{"name":"mlabels"},"mark":{"type":"text","align":"left","baseline":"middle","fontSize":5.5,"color":"#000","dx":4},
 "encoding":{"x":{"datum":205.2,"type":"quantitative","scale":{"domain":[-0.25,205.2],"nice":false,"zero":false},"axis":null},"y":{"field":"v","type":"quantitative","scale":{"domain":[-0.0126,0.0172],"nice":false,"zero":false},"axis":null},"text":{"field":"t"}}},
{"mark":{"type":"point","filled":true,"opacity":1,"shape":"M-1,-0.27H1V0.27H-1Z","size":700,"color":"#9966cc"},
 "encoding":{"x":{"datum":209.3,"type":"quantitative","scale":{"domain":[-0.25,205.2],"nice":false,"zero":false},"axis":null},"y":{"datum":0,"type":"quantitative","scale":{"domain":[-0.0126,0.0172],"nice":false,"zero":false},"axis":null}}},
{"mark":{"type":"text","align":"center","baseline":"middle","fontSize":5.5,"color":"#ffffff"},
 "encoding":{"x":{"datum":209.3,"type":"quantitative","scale":{"domain":[-0.25,205.2],"nice":false,"zero":false},"axis":null},"y":{"datum":0,"type":"quantitative","scale":{"domain":[-0.0126,0.0172],"nice":false,"zero":false},"axis":null},"text":{"value":"0.0000"}}}
]
}
]
}
